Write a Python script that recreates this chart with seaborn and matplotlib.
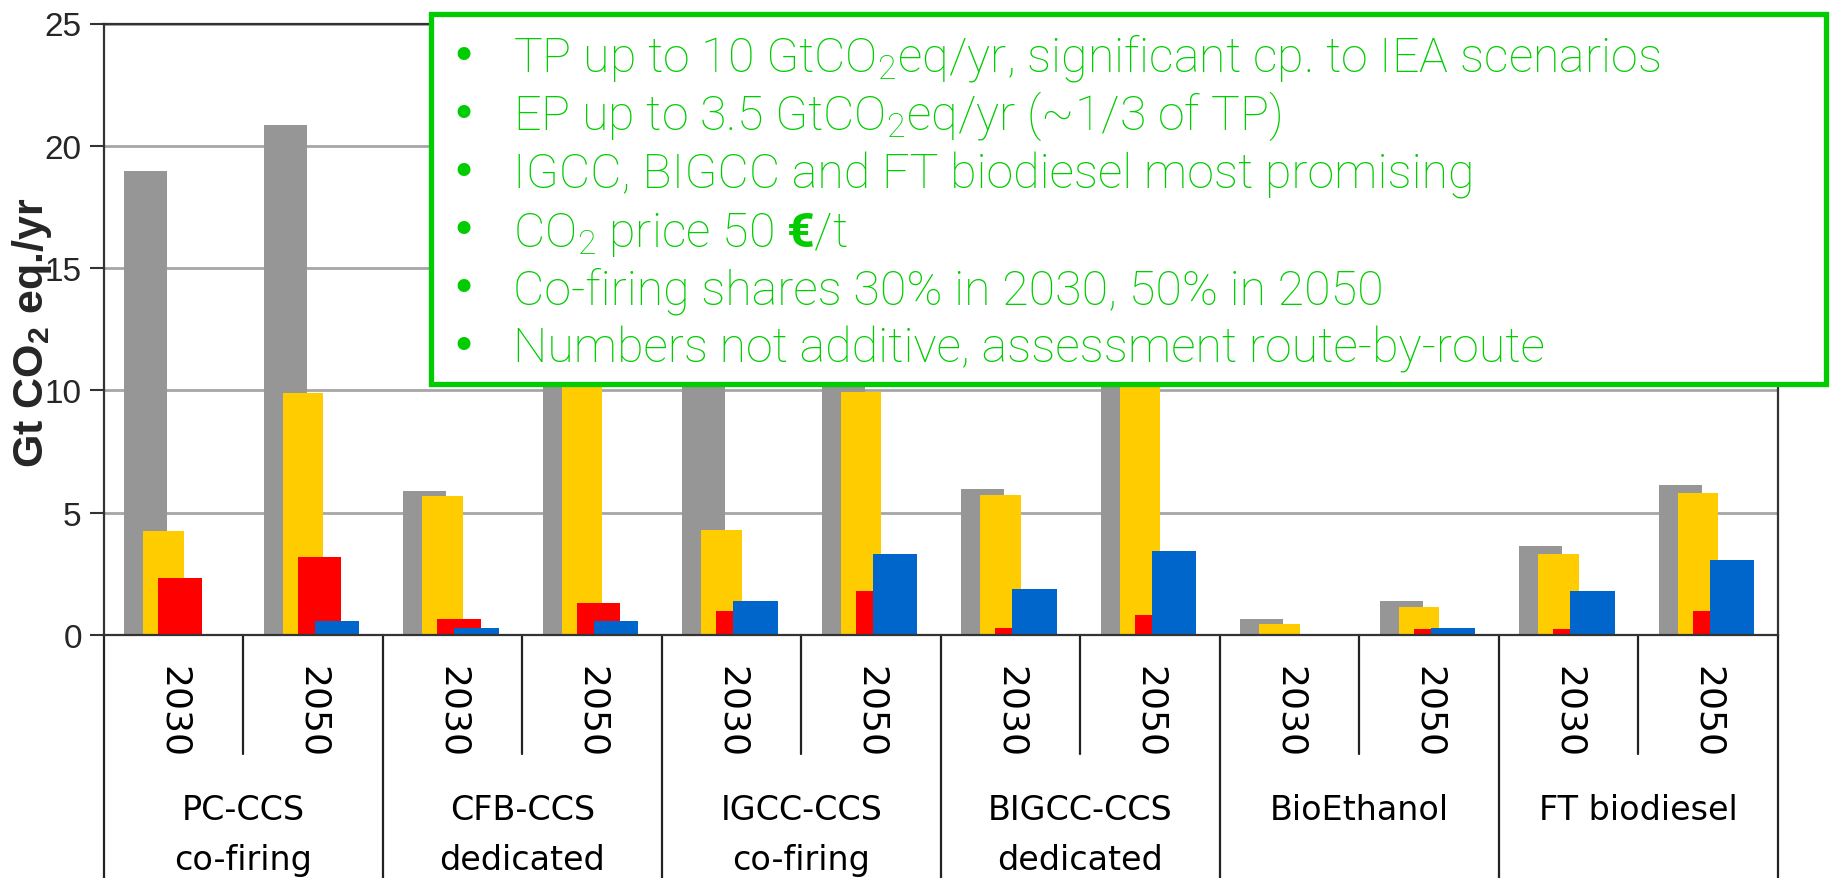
import matplotlib
matplotlib.use("Agg")
import matplotlib.pyplot as plt
import seaborn as sns
import pandas as pd
import numpy as np
from matplotlib.patches import Rectangle

# ---------------- data ----------------
technologies = ["PC-CCS", "CFB-CCS", "IGCC-CCS", "BIGCC-CCS", "BioEthanol", "FT biodiesel"]
tech_sub = ["co-firing", "dedicated", "co-firing", "dedicated", "", ""]
years = ["2030", "2050"]
gray_vals = [18.95, 20.85, 5.9, 12.5, 18.95, 20.85, 5.95, 12.5, 0.66, 1.38, 3.62, 6.15]
yellow_vals = [4.25, 9.9, 5.68, 12.0, 4.3, 9.95, 5.72, 12.0, 0.44, 1.16, 3.3, 5.8]
red_vals = [2.32, 3.18, 0.64, 1.3, 1.0, 1.8, 0.3, 0.8, 0.0, 0.23, 0.23, 0.97]
blue_vals = [0.0, 0.57, 0.29, 0.58, 1.37, 3.3, 1.87, 3.45, 0.0, 0.3, 1.8, 3.08]
y_ticks = [0, 5, 10, 15, 20, 25]
box_lines = [
    r"TP up to 10 GtCO$_2$eq/yr, significant cp. to IEA scenarios",
    r"EP up to 3.5 GtCO$_2$eq/yr (~1/3 of TP)",
    r"IGCC, BIGCC and FT biodiesel most promising",
    r"CO$_2$ price 50 $\mathbf{€}$/t",
    r"Co-firing shares 30% in 2030, 50% in 2050",
    r"Numbers not additive, assessment route-by-route",
]

# ---------------- style ----------------
sns.set_style("white")
plt.rcParams["font.family"] = ["DejaVu Sans"]
plt.rcParams["mathtext.fontset"] = "custom"
plt.rcParams["mathtext.rm"] = "Roboto"
plt.rcParams["mathtext.bf"] = "Roboto:bold"
plt.rcParams["mathtext.it"] = "Roboto:italic"
plt.rcParams["mathtext.default"] = "regular"

W, H = 1831, 879
x0, x1 = 104, 1778
y0, y1 = 636, 24.5

fig = plt.figure(figsize=(W / 100, H / 100), dpi=100)
ax = fig.add_axes([x0 / W, (H - y0) / H, (x1 - x0) / W, (y0 - y1) / H])


def ay(py):
    return (y0 - py) / (y0 - y1)


series = [
    (gray_vals, -0.20, 0.31, "#969696"),
    (yellow_vals, -0.075, 0.29, "#FFCC00"),
    (red_vals, 0.045, 0.31, "#FF0000"),
    (blue_vals, 0.17, 0.32, "#0066CC"),
]
slots = np.arange(len(gray_vals))
for vals, off, w, col in series:
    df = pd.DataFrame({"pos": slots + off, "value": vals})
    sns.barplot(data=df, x="pos", y="value", native_scale=True, width=w,
                color=col, saturation=1, errorbar=None, linewidth=0, ax=ax)

ax.set_xlim(-0.5, 11.5)
ax.set_ylim(0, 25)
ax.set_xticks([])
ax.set_xlabel("")
ax.set_yticks(y_ticks)
ax.set_yticklabels([str(t) for t in y_ticks], family="Liberation Sans", fontsize=24)
ax.tick_params(axis="y", length=10, width=1.5, color="#333333", pad=6, left=True)
ax.yaxis.grid(True, color="#A6A6A6", lw=2)
ax.set_axisbelow(True)
for s in ["left", "right", "top", "bottom"]:
    ax.spines[s].set_visible(True)
    ax.spines[s].set_color("#333333")
    ax.spines[s].set_linewidth(1.6)

ax.set_ylabel(r"Gt CO$_2$ eq./yr", family="Liberation Sans", fontweight="bold", fontsize=31)
ax.yaxis.label.set_verticalalignment("center")
ax.yaxis.set_label_coords((32 - x0) / (x1 - x0), ay(333))

# ---------------- category table under the axis ----------------
trans = ax.get_xaxis_transform()
for b in np.arange(-0.5, 12, 2):
    ax.plot([b, b], [0, ay(H + 2)], transform=trans, clip_on=False, color="#222222", lw=1.6)
for b in np.arange(0.5, 12, 2):
    ax.plot([b, b], [0, ay(755)], transform=trans, clip_on=False, color="#222222", lw=1.6)
for i in slots:
    ax.text(i, ay(712), years[i % 2], transform=trans, rotation=270, ha="center",
            va="center", rotation_mode="anchor", fontsize=26, family="DejaVu Sans", color="black")
for g, (t1, t2) in enumerate(zip(technologies, tech_sub)):
    ax.text(2 * g + 0.5, ay(820), t1, transform=trans, ha="center", va="baseline",
            fontsize=24, family="DejaVu Sans", color="black")
    if t2:
        ax.text(2 * g + 0.5, ay(870), t2, transform=trans, ha="center", va="baseline",
                fontsize=24, family="DejaVu Sans", color="black")

# ---------------- green annotation box ----------------
green = "#00CC00"
bx0, bx1, by0, by1 = 431, 1826, 15, 385
rect = Rectangle((bx0 / W, 1 - by1 / H), (bx1 - bx0) / W, (by1 - by0) / H,
                 transform=fig.transFigure, facecolor="white", edgecolor=green,
                 lw=3.8, zorder=10)
fig.add_artist(rect)
for i, line in enumerate(box_lines):
    yb = 72 + 58.2 * i
    fig.text(463 / W, 1 - (yb - 15) / H, "•", ha="center", va="center", color=green,
             fontsize=32, family="DejaVu Sans", zorder=11)
    fig.text(513 / W, 1 - yb / H, line, ha="left", va="baseline", color=green,
             fontsize=34.8, family="Roboto", fontweight="light", zorder=11)

fig.savefig("out.png", dpi=100)
